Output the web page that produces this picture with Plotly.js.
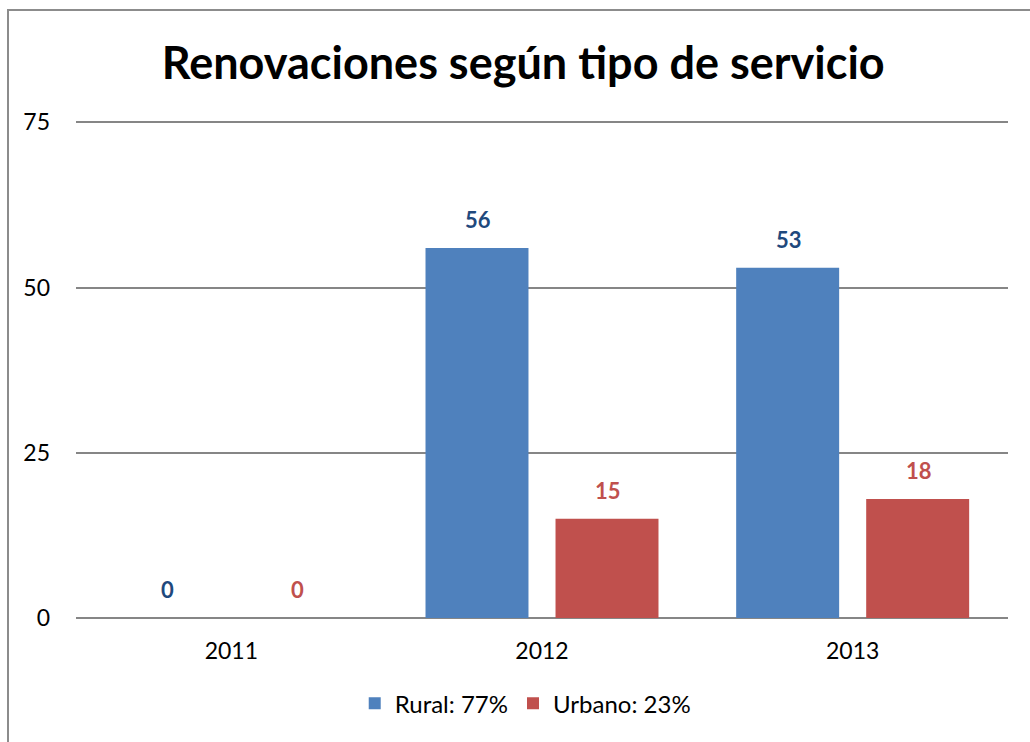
<!DOCTYPE html>
<html>
<head>
<meta charset="utf-8">
<script src="https://cdn.plot.ly/plotly-3.0.1.min.js"></script>
<style>
  html, body { margin: 0; padding: 0; background: #fff; }
  #wrap { position: relative; width: 1030px; height: 742px; overflow: hidden; }
  #chart { width: 1030px; height: 742px; }
  #frame { position: absolute; left: 7px; top: 9px; width: 1100px; height: 800px;
           border-left: 2px solid #8c8c8c; border-top: 2px solid #8c8c8c; pointer-events: none; }
</style>
</head>
<body>
<div id="wrap">
  <div id="chart"></div>
  <div id="frame"></div>
</div>
<script>
const years = ['2011', '2012', '2013'];
const rural = [0, 56, 53];
const urbano = [0, 15, 18];
const seriesNames = ['Rural: 77%', 'Urbano: 23%'];
const yTicks = [0, 25, 50, 75];

const FONT = 'Lato, "Open Sans", sans-serif';
const barColors = ['#4F81BD', '#C0504D'];
const labelColors = ['#1F497D', '#C0504D'];

const traces = [rural, urbano].map((vals, i) => ({
  type: 'bar',
  name: seriesNames[i],
  x: years,
  y: vals,
  marker: { color: barColors[i], line: { width: 0 } },
  hoverinfo: 'none'
}));

const annotations = [];
[rural, urbano].forEach((vals, i) => {
  vals.forEach((v, j) => {
    annotations.push({
      xref: 'x', yref: 'y', x: j, y: v,
      xshift: i === 0 ? -64 : 66, yshift: 13,
      yanchor: 'bottom', showarrow: false,
      text: '<b>' + v + '</b>',
      font: { family: FONT, size: 22, color: labelColors[i] }
    });
  });
});

const layout = {
  width: 1030, height: 742,
  margin: { l: 76, r: 22, t: 121, b: 124 },
  paper_bgcolor: '#ffffff', plot_bgcolor: '#ffffff',
  title: {
    text: '<b>Renovaciones según tipo de servicio</b>',
    font: { family: FONT, size: 45, color: '#000' },
    x: 0.508, xanchor: 'center', y: 0.915, yanchor: 'middle'
  },
  barmode: 'group', bargap: 0.163, bargroupgap: 0.208,
  xaxis: {
    type: 'category', range: [-0.5, 2.5], autorange: false,
    showgrid: false, zeroline: false, showline: false,
    ticks: '', tickfont: { family: FONT, size: 23, color: '#000' },
    ticklabelstandoff: 17
  },
  yaxis: {
    range: [0, 75.2], autorange: false, tickvals: yTicks, ticktext: yTicks.map(String),
    showgrid: true, gridcolor: '#868686', gridwidth: 2,
    zeroline: true, zerolinecolor: '#868686', zerolinewidth: 2,
    showline: false, ticks: '',
    tickfont: { family: FONT, size: 23, color: '#000' },
    ticklabelstandoff: 25
  },
  legend: {
    orientation: 'h', x: 0.482, xanchor: 'center', y: -0.127, yanchor: 'top',
    font: { family: FONT, size: 24, color: '#000' },
    itemwidth: 30, tracegroupgap: 0
  },
  annotations: annotations,
  showlegend: true
};

Plotly.newPlot('chart', traces, layout, { displayModeBar: false, staticPlot: true });
</script>
</body>
</html>
